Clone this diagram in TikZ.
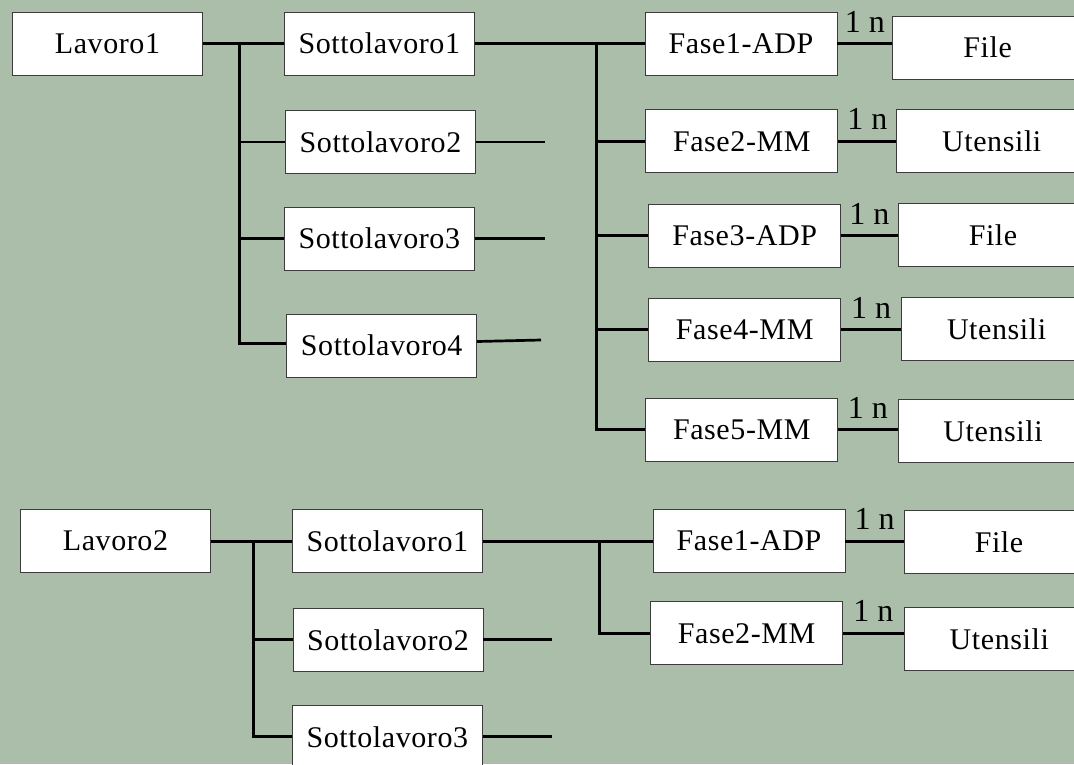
\documentclass[tikz,border=0pt]{standalone}
\usepackage{fontspec}
\usetikzlibrary{calc}
\setmainfont{Liberation Serif}
\newfontfamily\boxfont{Liberation Serif}[LetterSpace=2]
\definecolor{sage}{RGB}{170,190,170}
\definecolor{boxline}{RGB}{60,60,60}

\begin{document}
\begin{tikzpicture}[x=1pt, y=-1pt, every node/.style={inner sep=0pt},
  job/.style={draw=boxline, fill=white, line width=0.9pt, minimum width=190pt,
    minimum height=63pt, font=\boxfont\fontsize{30}{30}\selectfont},
  link/.style={line width=2.7pt},
  card/.style={midway, above=10pt, font=\fontsize{32}{32}\selectfont}]
  \clip (0,0) rectangle (1074,764);
  \fill[sage] (0,0) rectangle (1074,764);
  % trunks and stub ends
  \coordinate (ta) at (239.3,0);
  \coordinate (fa) at (596.8,0);
  \coordinate (sa) at (545,0);
  \coordinate (tb) at (253.4,0);
  \coordinate (fb) at (599.6,0);
  \coordinate (sb) at (552,0);
  % first job
  \node[job] (L1) at (107.5,43.5) {Lavoro1};
  \node[job] (S1a) at (379.3,43.5) {Sottolavoro1};
  \node[job] (S2a) at (380.5,142) {Sottolavoro2};
  \node[job] (S3a) at (379.3,238.7) {Sottolavoro3};
  \node[job] (S4a) at (381.7,345.5) {Sottolavoro4};
  \node[job, minimum width=192pt] (F1a) at (741,43.5) {Fase1-ADP};
  \node[job, minimum width=192pt] (F2a) at (741.8,141.3) {Fase2-MM};
  \node[job, minimum width=192pt] (F3a) at (744.7,235.5) {Fase3-ADP};
  \node[job, minimum width=192pt] (F4a) at (744.7,329.7) {Fase4-MM};
  \node[job, minimum width=192pt] (F5a) at (741.8,429.7) {Fase5-MM};
  \node[job] (R1a) at (987.6,47.5) {File};
  \node[job] (R2a) at (991.7,141.3) {Utensili};
  \node[job] (R3a) at (993,235) {File};
  \node[job] (R4a) at (996.6,329) {Utensili};
  \node[job] (R5a) at (993,430.8) {Utensili};
  \draw[link] (L1.east) -- (S1a.west);
  \draw[link] (ta |- L1.east) |- ($(S4a.west)+(0,-2)$);
  \draw[link] (ta |- S2a.west) -- (S2a.west);
  \draw[link] (ta |- S3a.west) -- (S3a.west);
  \draw[link] (S1a.east) -- (F1a.west);
  \draw[link] (S2a.east) -- (S2a.east -| sa);
  \draw[link] (S3a.east) -- (S3a.east -| sa);
  \draw[link] ($(S4a.east)+(0,-4)$) -- ($(S4a.east -| sa)+(-4,-5.5)$);
  \draw[link] (fa |- S1a.east) |- (F5a.west);
  \draw[link] (fa |- F2a.west) -- (F2a.west);
  \draw[link] (fa |- F3a.west) -- (F3a.west);
  \draw[link] (fa |- F4a.west) -- (F4a.west);
  \draw[link] (F1a.east) -- (F1a.east -| R1a.west) node[card] {1 n};
  \draw[link] (F2a.east) -- (F2a.east -| R2a.west) node[card] {1 n};
  \draw[link] (F3a.east) -- (F3a.east -| R3a.west) node[card] {1 n};
  \draw[link] (F4a.east) -- (F4a.east -| R4a.west) node[card] {1 n};
  \draw[link] (F5a.east) -- (F5a.east -| R5a.west) node[card] {1 n};
  % second job
  \node[job] (L2) at (115.5,541.2) {Lavoro2};
  \node[job] (S1b) at (387.4,541.2) {Sottolavoro1};
  \node[job] (S2b) at (388,639.8) {Sottolavoro2};
  \node[job] (S3b) at (387.4,736.8) {Sottolavoro3};
  \node[job, minimum width=192pt] (F1b) at (749,541.2) {Fase1-ADP};
  \node[job, minimum width=192pt] (F2b) at (746.6,633.3) {Fase2-MM};
  \node[job] (R1b) at (999,542) {File};
  \node[job] (R2b) at (999.3,639) {Utensili};
  \draw[link] (L2.east) -- (S1b.west);
  \draw[link] (tb |- L2.east) |- (S3b.west);
  \draw[link] (tb |- S2b.west) -- (S2b.west);
  \draw[link] (S1b.east) -- (F1b.west);
  \draw[link] (S2b.east) -- (S2b.east -| sb);
  \draw[link] (S3b.east) -- (S3b.east -| sb);
  \draw[link] (fb |- S1b.east) |- (F2b.west);
  \draw[link] (F1b.east) -- (F1b.east -| R1b.west) node[card] {1 n};
  \draw[link] (F2b.east) -- (F2b.east -| R2b.west) node[card] {1 n};
\end{tikzpicture}
\end{document}
